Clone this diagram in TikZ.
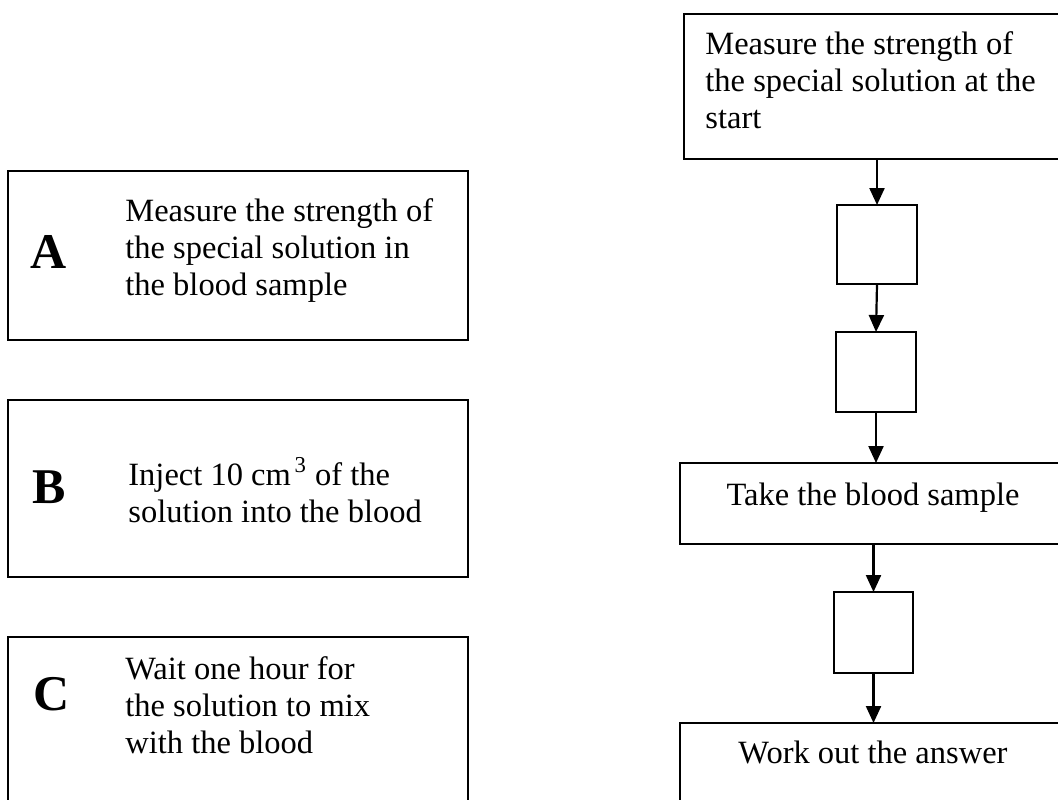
\documentclass[tikz,border=0pt]{standalone}
\usepackage{fontspec}
\setmainfont{Liberation Serif}
\usetikzlibrary{arrows.meta}
\tikzset{
  box/.style={draw, line width=1.1pt, inner sep=0pt, outer sep=0pt},
  arr/.style={line width=1.1pt, -{Triangle[width=7.5pt,length=8.5pt]}},
  txt/.style={inner sep=0pt, align=left, font=\fontsize{16.25pt}{18.5pt}\selectfont},
  letter/.style={inner sep=0pt, font=\fontsize{25pt}{25pt}\selectfont\bfseries}
}

\begin{document}
\begin{tikzpicture}[x=0.5pt,y=0.5pt,yscale=-1,xscale=1]
\useasboundingbox (0,0) rectangle (1058,799);
\clip (0,0) rectangle (1058,799);

%Shape: Rectangle [id:boxA]
\node[box, minimum width=230pt, minimum height=84.5pt] (boxA) at (238,255.5) {};
%Shape: Rectangle [id:boxB]
\node[box, minimum width=230pt, minimum height=88.5pt] (boxB) at (238,488.5) {};
%Shape: Rectangle [id:boxC]
\node[box, minimum width=230pt, minimum height=106.5pt] (boxC) at (238,743.5) {};

% Text Node
\node[letter, anchor=base west] (letA) at (30,268) {A};
% Text Node
\node[letter, anchor=base west] (letB) at (32,503) {B};
% Text Node
\node[letter, anchor=base west] (letC) at (33,710) {C};
% Text Node
\node[txt, anchor=base west] (txtA) at (125,295) {Measure the strength of\\the special solution in\\the blood sample};
% Text Node
\node[txt, anchor=base west] (txtB) at (128,522) {Inject 10 cm\textsuperscript{\,3} of the\\solution into the blood};
% Text Node
\node[txt, anchor=base west] (txtC) at (125,753) {Wait one hour for\\the solution to mix\\with the blood};

%Shape: Rectangle [id:start]
\node[box, minimum width=193pt, minimum height=72.5pt] (start) at (877,86.5) {};
%Shape: Rectangle [id:blank1]
\node[box, minimum width=40pt, minimum height=39.5pt] (blank1) at (877,244.5) {};
%Shape: Rectangle [id:blank2]
\node[box, minimum width=40pt, minimum height=40pt] (blank2) at (876,372) {};
%Shape: Rectangle [id:sample]
\node[box, minimum width=195pt, minimum height=40.5pt] (sample) at (875,503.5) {};
%Shape: Rectangle [id:blank3]
\node[box, minimum width=39.5pt, minimum height=40.5pt] (blank3) at (873.5,632.5) {};
%Shape: Rectangle [id:answer]
\node[box, minimum width=195pt, minimum height=63.5pt] (answer) at (875,786.5) {};

% Text Node
\node[txt, anchor=base west] (txtStart) at (705,128) {Measure the strength of\\the special solution at the\\start};
% Text Node
\node[txt, anchor=base] (txtSample) at (873,505) {Take the blood sample};
% Text Node
\node[txt, anchor=base] (txtAnswer) at (873,763) {Work out the answer};

%Straight Lines [id:arrows]
\draw[arr] (blank1 |- start.south) -- (blank1.north);
\draw[arr] (blank1.south) -- (blank2.north);
\draw[arr] (blank2.south) -- (blank2 |- sample.north);
\draw[arr] (blank3 |- sample.south) -- (blank3.north);
\draw[arr] (blank3.south) -- (blank3 |- answer.north);

\end{tikzpicture}
\end{document}
